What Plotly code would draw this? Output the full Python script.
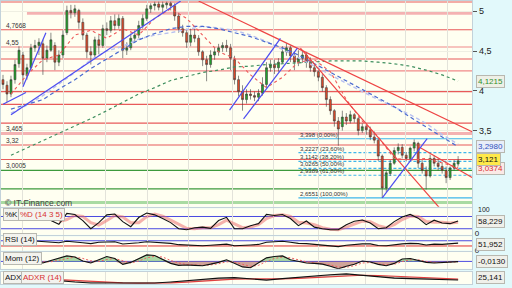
import plotly.graph_objects as go
from plotly.subplots import make_subplots

# ---------------- data ----------------
bar = list(range(115))
open_ = [4.14, 4.07, 3.96, 4.14, 4.34, 4.45, 4.19, 4.29, 4.54, 4.57,
         4.59, 4.41, 4.51, 4.57, 4.36, 4.45, 4.73, 5.01, 4.98, 5.01,
         4.86, 4.70, 4.49, 4.45, 4.64, 4.57, 4.78, 4.76, 4.88, 4.82,
         4.91, 4.51, 4.54, 4.66, 4.70, 4.82, 4.91, 5.03, 5.07, 5.09,
         5.05, 5.08, 5.10, 5.07, 4.94, 4.78, 4.73, 4.61, 4.70, 4.66,
         4.49, 4.39, 4.33, 4.45, 4.49, 4.54, 4.57, 4.54, 4.39, 4.14,
         3.99, 3.89, 3.96, 3.94, 3.92, 3.97, 4.08, 4.29, 4.33, 4.29,
         4.36, 4.49, 4.54, 4.44, 4.36, 4.41, 4.45, 4.36, 4.29, 4.24,
         4.17, 4.04, 3.89, 3.75, 3.62, 3.55, 3.67, 3.62, 3.70, 3.65,
         3.50, 3.55, 3.51, 3.42, 3.38, 3.18, 2.78, 2.96, 3.09, 3.25,
         3.29, 3.19, 3.15, 3.28, 3.34, 3.09, 3.00, 2.93, 3.15, 3.09,
         3.05, 3.00, 2.91, 3.03, 3.08]
high = [4.20, 4.12, 4.19, 4.39, 4.56, 4.49, 4.34, 4.59, 4.64, 4.66,
        4.64, 4.57, 4.73, 4.61, 4.51, 4.76, 5.07, 5.08, 5.08, 5.03,
        4.91, 4.73, 4.56, 4.68, 4.70, 4.83, 4.86, 4.94, 4.96, 4.96,
        4.94, 4.61, 4.72, 4.76, 4.88, 4.96, 5.08, 5.10, 5.12, 5.12,
        5.12, 5.12, 5.12, 5.10, 4.98, 4.83, 4.78, 4.78, 4.78, 4.70,
        4.51, 4.44, 4.51, 4.54, 4.59, 4.61, 4.64, 4.59, 4.44, 4.19,
        4.07, 4.02, 4.02, 3.99, 4.02, 4.17, 4.36, 4.39, 4.39, 4.41,
        4.56, 4.60, 4.57, 4.49, 4.51, 4.51, 4.49, 4.42, 4.33, 4.26,
        4.21, 4.07, 3.93, 3.77, 3.67, 3.75, 3.72, 3.75, 3.72, 3.67,
        3.59, 3.57, 3.55, 3.49, 3.40, 3.20, 3.00, 3.13, 3.29, 3.34,
        3.33, 3.23, 3.30, 3.39, 3.36, 3.13, 3.05, 3.20, 3.19, 3.15,
        3.10, 3.05, 3.05, 3.13, 3.18]
low = [4.02, 3.86, 3.92, 4.09, 4.29, 4.08, 4.14, 4.26, 4.49, 4.45,
       4.20, 4.36, 4.49, 4.26, 4.31, 4.41, 4.70, 4.91, 4.93, 4.78,
       4.64, 4.41, 4.33, 4.41, 4.46, 4.54, 4.70, 4.73, 4.76, 4.78,
       4.41, 4.45, 4.51, 4.61, 4.66, 4.78, 4.88, 4.98, 5.01, 5.01,
       4.98, 5.03, 5.01, 4.88, 4.73, 4.68, 4.54, 4.56, 4.61, 4.44,
       4.31, 4.12, 4.29, 4.39, 4.44, 4.49, 4.49, 4.26, 4.08, 3.93,
       3.75, 3.84, 3.89, 3.87, 3.87, 3.94, 4.04, 4.24, 4.21, 4.24,
       4.34, 4.44, 4.36, 4.26, 4.31, 4.35, 4.29, 4.24, 4.18, 4.12,
       3.99, 3.80, 3.70, 3.55, 3.31, 3.50, 3.57, 3.59, 3.60, 3.44,
       3.47, 3.45, 3.38, 3.34, 3.12, 2.6551, 2.73, 2.93, 3.07, 3.20,
       3.15, 3.12, 3.13, 3.24, 3.03, 2.96, 2.76, 2.91, 3.05, 3.00,
       2.96, 2.84, 2.88, 3.00, 3.05]
close = [4.08, 3.96, 4.14, 4.33, 4.51, 4.20, 4.29, 4.54, 4.57, 4.61,
         4.41, 4.51, 4.64, 4.36, 4.45, 4.70, 5.01, 4.98, 5.03, 4.86,
         4.70, 4.49, 4.45, 4.64, 4.57, 4.78, 4.76, 4.88, 4.82, 4.91,
         4.51, 4.54, 4.66, 4.70, 4.82, 4.91, 5.03, 5.07, 5.09, 5.05,
         5.08, 5.10, 5.07, 4.94, 4.78, 4.73, 4.61, 4.70, 4.66, 4.49,
         4.39, 4.33, 4.45, 4.49, 4.54, 4.57, 4.54, 4.41, 4.14, 3.99,
         3.89, 3.96, 3.94, 3.92, 3.97, 4.08, 4.29, 4.33, 4.29, 4.36,
         4.49, 4.54, 4.44, 4.36, 4.41, 4.45, 4.36, 4.29, 4.24, 4.17,
         4.04, 3.89, 3.75, 3.62, 3.52, 3.67, 3.62, 3.70, 3.65, 3.50,
         3.55, 3.51, 3.42, 3.38, 3.18, 2.78, 2.97, 3.09, 3.25, 3.29,
         3.19, 3.15, 3.28, 3.35, 3.09, 3.00, 2.93, 3.15, 3.09, 3.05,
         3.00, 2.91, 3.03, 3.09, 3.121]

# moving averages sampled every 4 bars
ma_bar = list(range(2, 115, 4))
ma_short = [3.96, 4.20, 4.39, 4.45, 4.70, 4.76, 4.66, 4.78, 4.70, 4.91, 5.03, 4.91, 4.70, 4.49, 4.41,
            4.20, 4.04, 4.17, 4.36, 4.39, 4.24, 3.89, 3.62, 3.42, 3.15, 3.13, 3.15, 3.09, 3.0374]
ma_mid = [3.77, 3.83, 3.89, 4.02, 4.14, 4.28, 4.40, 4.52, 4.64, 4.72, 4.78, 4.81, 4.81, 4.78, 4.73,
          4.68, 4.61, 4.54, 4.45, 4.34, 4.24, 4.13, 4.02, 3.91, 3.80, 3.67, 3.55, 3.42, 3.298]
ma_lav = [3.72, 3.82, 3.94, 4.08, 4.23, 4.39, 4.50, 4.56, 4.65, 4.70, 4.73, 4.77, 4.81, 4.79, 4.76,
          4.70, 4.62, 4.52, 4.42, 4.31, 4.20, 4.09, 3.99, 3.89, 3.80, 3.70, 3.59, 3.45, 3.33]
ma_long = [3.19, 3.28, 3.38, 3.46, 3.55, 3.65, 3.75, 3.86, 3.96, 4.04, 4.13, 4.18, 4.23, 4.26, 4.30,
           4.31, 4.33, 4.34, 4.35, 4.36, 4.375, 4.375, 4.375, 4.36, 4.34, 4.31, 4.26, 4.20, 4.1215]

# oscillators sampled every 2 bars
osc_bar = list(range(8, 115, 2))
pct_k = [None, None,
         60, 42, 95, 90, 60, 20, 50, 88, 92, 55, 30, 75, 97, 88, 70, 50, 20, 15, 25, 28,
         22, 60, 76, 20, 20, 35, 45, 90, 85, 90, 70, 35, 58, 28, 20, 15, 15, 40, 57, 63,
         48, 20, 25, 55, 78, 90, 72, 40, 62, 48, 45, 58.229]
pct_d = [None, None, None,
         55, 65, 85, 80, 50, 38, 60, 85, 78, 50, 50, 80, 92, 82, 62, 40, 22, 20, 25, 25,
         40, 62, 45, 25, 28, 40, 70, 85, 88, 80, 52, 48, 40, 25, 18, 15, 28, 45, 58, 55,
         35, 25, 40, 65, 82, 80, 55, 52, 52, 48, 52]
rsi = [68, 62, 57, 55, 66, 62, 55, 48, 58, 60, 62, 45, 48, 55, 62, 58, 52, 50, 40, 36,
       34, 32, 36, 42, 44, 32, 33, 38, 42, 58, 62, 66, 58, 50, 48, 42, 36, 28, 25, 36,
       42, 46, 46, 34, 32, 40, 46, 50, 48, 38, 44, 42, 46, 51.952]
mom = [0, -0.08, 0.05, 0.18, 0.28, 0.22, 0.02, -0.08, 0.08, 0.25, 0.15, -0.15, -0.05, 0.15,
       0.33, 0.30, 0.12, -0.10, -0.20, -0.18, -0.20, -0.22, -0.14, -0.05, 0.08, -0.10, -0.28,
       -0.32, -0.08, 0.18, 0.25, 0.28, 0.08, 0, -0.08, -0.10, -0.14, -0.25, -0.38, -0.25,
       -0.15, 0.02, -0.03, -0.15, -0.22, -0.10, 0.12, 0.15, 0.05, -0.05, -0.08, -0.05, -0.03, -0.013]
mom_sig = [0.00, -0.03, -0.02, 0.05, 0.15, 0.22, 0.15, 0.03, 0.00, 0.10, 0.15, 0.02, -0.08, 0.02,
           0.18, 0.26, 0.22, 0.05, -0.08, -0.16, -0.19, -0.20, -0.18, -0.12, -0.02, -0.04, -0.15,
           -0.25, -0.20, 0.00, 0.15, 0.22, 0.18, 0.08, -0.02, -0.07, -0.11, -0.18, -0.28, -0.30,
           -0.22, -0.08, -0.06, -0.10, -0.17, -0.15, -0.01, 0.08, 0.08, 0.00, -0.05, -0.06, -0.04, -0.02]
adx = [32.1, 29.1, 26.1, 23.1, 21.1, 19.1, 19.1, 18.1, 18.1, 19.1, 21.1, 24.1, 27.1, 29.1, 30.1,
       27.1, 25.1, 28.1, 31.1, 33.1, 36.1, 37.7, 35.1, 32.1, 29.1, 28.1, 27.1, 26.1, 25.141]
adxr = [30, 30, 28.5, 26, 24, 22, 20.5, 19.5, 19, 18.8, 19.5, 21, 23, 25, 27, 27.5, 27, 27.5,
        28.5, 30, 32, 34, 35, 34.5, 33, 31, 29.5, 28, 27]

month_starts = [5, 15.25, 25.75, 36.25, 46.5, 57.5, 67.75, 79, 90.75, 100.75, 111.25]

red_levels = [5.115, 4.7668, 4.40, 3.99, 3.83, 3.594, 3.32, 3.137]
pink_levels = [4.55, 4.25]
pink_thick_levels = [4.974, 3.465]
pink_thick_start = [6, None]
green_levels = [3.0005, 2.767]
lightgreen_levels = [2.598]

left_labels = ['4,7668', '4,55', '3,465', '3,32', '3,0005']
left_values = [4.7668, 4.55, 3.465, 3.32, 3.0005]

fib_levels = [3.398, 3.2227, 3.1142, 3.0265, 2.9389, 2.6551]
fib_text = ['3,398 (0,00%)', '3,2227 (23,60%)', '3,1142 (38,20%)', '3,0265 (50,00%)',
            '2,9389 (61,80%)', '2,6551 (100,00%)']
fib_start = 74

# trendlines: [bar0, price0, bar1, price1]
red_trends = [[49, 5.128, 117.5, 3.486], [74.5, 4.535, 109.5, 2.52], [104, 3.30, 117.5, 2.91]]
blue_trends = [[0, 3.83, 5.75, 3.98], [5, 4.05, 10.75, 4.73], [2, 3.70, 44.5, 5.128],
               [60.25, 3.647, 73.75, 4.535], [56.75, 3.758, 69.5, 4.659], [95, 2.6551, 106.25, 3.40]]

# ---------------- figure ----------------
W, H = 512, 288
XR = [-0.5, 117.5]
XD = [0, 472 / 512]


def pv(px):
    return 1 - px / H


fig = make_subplots(rows=5, cols=1, shared_xaxes=True, vertical_spacing=0.01)

shapes = []


def hline(level, color, width, row, x0=None, dash='solid'):
    xr = 'x' if row == 1 else f'x{row}'
    yr = 'y' if row == 1 else f'y{row}'
    shapes.append(dict(type='line', xref=xr, yref=yr, x0=XR[0] if x0 is None else x0, x1=XR[1],
                       y0=level, y1=level, layer='below',
                       line=dict(color=color, width=width, dash=dash)))


for lv in lightgreen_levels:
    hline(lv, '#a9dba2', 3, 1)
for lv, st in zip(pink_thick_levels, pink_thick_start):
    hline(lv, '#f4b2b2', 3, 1, x0=st)
for lv in red_levels:
    hline(lv, '#e85a5a', 1.1, 1)
for lv in pink_levels:
    hline(lv, '#f08a8a', 1.1, 1)
for lv in green_levels:
    hline(lv, '#3c9a3c', 1.3, 1)
for i, lv in enumerate(fib_levels):
    solid = i in (0, len(fib_levels) - 1)
    hline(lv, '#3fb6ea', 1.2, 1, x0=fib_start, dash='solid' if solid else '3px,2px')

# indicator reference lines
hline(80, '#4a4ae0', 1, 2)
hline(20, '#4a4ae0', 1, 2)
hline(70, '#4a4ae0', 1, 3)
hline(30, '#e03030', 1, 3)
hline(0, '#4a4ae0', 1, 4)

# moving averages
fig.add_trace(go.Scatter(x=ma_bar, y=ma_long, mode='lines',
                         line=dict(color='#3f8f5f', width=1.2, dash='3px,3px')), row=1, col=1)
fig.add_trace(go.Scatter(x=ma_bar, y=ma_lav, mode='lines',
                         line=dict(color='#b8c0f0', width=1.4, dash='4px,3px')), row=1, col=1)
fig.add_trace(go.Scatter(x=ma_bar, y=ma_mid, mode='lines',
                         line=dict(color='#4a6ad0', width=1.2, dash='4px,3px')), row=1, col=1)
fig.add_trace(go.Scatter(x=ma_bar, y=ma_short, mode='lines',
                         line=dict(color='#ee5a5a', width=1.1, dash='3px,3px')), row=1, col=1)

for b0, p0, b1, p1 in red_trends:
    fig.add_trace(go.Scatter(x=[b0, b1], y=[p0, p1], mode='lines',
                             line=dict(color='#ee4444', width=1.2)), row=1, col=1)
for b0, p0, b1, p1 in blue_trends:
    fig.add_trace(go.Scatter(x=[b0, b1], y=[p0, p1], mode='lines',
                             line=dict(color='#4c4cf0', width=1.2)), row=1, col=1)

fig.add_trace(go.Candlestick(
    x=bar, open=open_, high=high, low=low, close=close, whiskerwidth=0,
    increasing=dict(line=dict(color='#3a3a3a', width=0.6), fillcolor='#22a52a'),
    decreasing=dict(line=dict(color='#3a3a3a', width=0.6), fillcolor='#e24a28')), row=1, col=1)

# %K / %D
fig.add_trace(go.Scatter(x=osc_bar, y=pct_d, mode='lines',
                         line=dict(color='rgba(235,100,100,0.5)', width=3)), row=2, col=1)
fig.add_trace(go.Scatter(x=osc_bar, y=pct_k, mode='lines',
                         line=dict(color='#111111', width=1.1)), row=2, col=1)
# RSI
fig.add_trace(go.Scatter(x=osc_bar, y=rsi, mode='lines',
                         line=dict(color='#111111', width=1.1)), row=3, col=1)
# Momentum
mom_pos = [max(v, 0) for v in mom]
mom_neg = [min(v, 0) for v in mom]
fig.add_trace(go.Scatter(x=osc_bar, y=mom_pos, mode='lines', fill='tozeroy',
                         fillcolor='rgba(90,180,90,0.5)', line=dict(width=0)), row=4, col=1)
fig.add_trace(go.Scatter(x=osc_bar, y=mom_neg, mode='lines', fill='tozeroy',
                         fillcolor='rgba(170,90,80,0.55)', line=dict(width=0)), row=4, col=1)
fig.add_trace(go.Scatter(x=osc_bar, y=mom_sig, mode='lines',
                         line=dict(color='#ee6060', width=1, dash='2px,2px')), row=4, col=1)
fig.add_trace(go.Scatter(x=osc_bar, y=mom, mode='lines',
                         line=dict(color='#111111', width=1.1)), row=4, col=1)
# ADX
fig.add_trace(go.Scatter(x=ma_bar, y=adxr, mode='lines',
                         line=dict(color='#e04040', width=1.1)), row=5, col=1)
fig.add_trace(go.Scatter(x=ma_bar, y=adx, mode='lines', fill='tonexty',
                         fillcolor='rgba(110,110,110,0.45)',
                         line=dict(color='#111111', width=1.1)), row=5, col=1)

# axes
ydoms = [[pv(209.5), 1], [pv(238), pv(211)], [pv(254), pv(239.5)], [pv(272.5), pv(255.5)], [0, pv(275.5)]]
yranges = [[5.1284 - 209.5 / 81, 5.1284], [-10, 120], [-5.3, 103.8], [-0.375, 0.475], [17.14, 42.14]]
ytv = [[3.5, 4, 4.5, 5], [0], [0], [], []]
ytt = [['3,5', '4', '4,5', '5'], ['0'], ['0'], [], []]
for i in range(5):
    sfx = '' if i == 0 else str(i + 1)
    fig.layout['yaxis' + sfx].update(
        domain=ydoms[i], range=yranges[i], side='right', tickvals=ytv[i], ticktext=ytt[i],
        ticks='outside' if i == 0 else '', ticklen=4, tickcolor='#555',
        tickfont=dict(size=9 if i == 0 else 8, color='#222'),
        showgrid=(i == 0), gridcolor='#efefe2', zeroline=False,
        showline=True, mirror=True, linecolor='#c3d2da', linewidth=1, fixedrange=True)
    fig.layout['xaxis' + sfx].update(
        domain=XD, range=XR, tickvals=month_starts, showticklabels=False, ticks='',
        showgrid=True, gridcolor='#e3e3da', zeroline=False, showline=True, mirror=True,
        linecolor='#c3d2da', linewidth=1, rangeslider=dict(visible=False))

ann = []
FONT = 'Liberation Sans'
# left level labels
for t, v in zip(left_labels, left_values):
    ann.append(dict(xref='paper', yref='y', x=3 / W, y=v, text=t, showarrow=False,
                    xanchor='left', yanchor='bottom', yshift=-1,
                    font=dict(size=6.5, color='#333', family=FONT)))
# fib labels
for t, v in zip(fib_text, fib_levels):
    ann.append(dict(xref='x', yref='y', x=fib_start, y=v, text=t, showarrow=False,
                    xanchor='left', yanchor='bottom', yshift=-1,
                    font=dict(size=6, color='#333', family=FONT)))
# watermark
ann.append(dict(xref='paper', yref='paper', x=2 / W, y=pv(206), text='© IT-Finance.com',
                showarrow=False, xanchor='left', yanchor='middle',
                font=dict(size=8.5, color='#444', family=FONT)))
# top label of the %K scale
ann.append(dict(xref='paper', yref='paper', x=476 / W, y=pv(212.5), text='100',
                showarrow=False, xanchor='left', yanchor='middle',
                font=dict(size=7, color='#222', family=FONT)))


def box(text, px_x, px_y, color, bg, size=8, anchor='left'):
    ann.append(dict(xref='paper', yref='paper', x=px_x / W, y=pv(px_y), text=text,
                    showarrow=False, xanchor=anchor, yanchor='middle', bgcolor=bg,
                    bordercolor='#b8b8b0', borderwidth=1, borderpad=1,
                    font=dict(size=size, color=color, family=FONT)))


# right value boxes
box('4,1215', 476, 81.5, '#2f8f2f', '#eef0e6')
box('3,2980', 476, 148, '#3050c0', '#e8eef8')
box('3,0374', 476, 170.5, '#d83030', '#fbeae6')
box('3,121', 476, 161.5, '#111111', '#ffe94a')
box('58,229', 476, 224, '#111111', '#f0f0ea')
box('51,952', 476, 247.5, '#111111', '#f0f0ea')
box('-0,0130', 476, 265.5, '#111111', '#f0f0ea')
box('25,141', 476, 281.5, '#111111', '#f0f0ea')
# panel titles
box('%K', 2, 217, '#111111', '#f3f3ee')
box('%D (14 3 5)', 17, 217, '#d83030', '#f3f3ee')
box('RSI (14)', 2, 243, '#111111', '#f3f3ee')
box('Mom (12)', 2, 262, '#111111', '#f3f3ee')
box('ADX', 2, 281.5, '#111111', '#f3f3ee')
box('ADXR (14)', 20, 281.5, '#d83030', '#f3f3ee')

fig.update_layout(width=W, height=H, margin=dict(l=0, r=0, t=0, b=0),
                  paper_bgcolor='#E2F9FB', plot_bgcolor='#FFFFF1', showlegend=False,
                  separators=', ', font=dict(family=FONT, size=9, color='#222'),
                  shapes=shapes, annotations=ann, hovermode=False)

fig.write_html('out.html')
